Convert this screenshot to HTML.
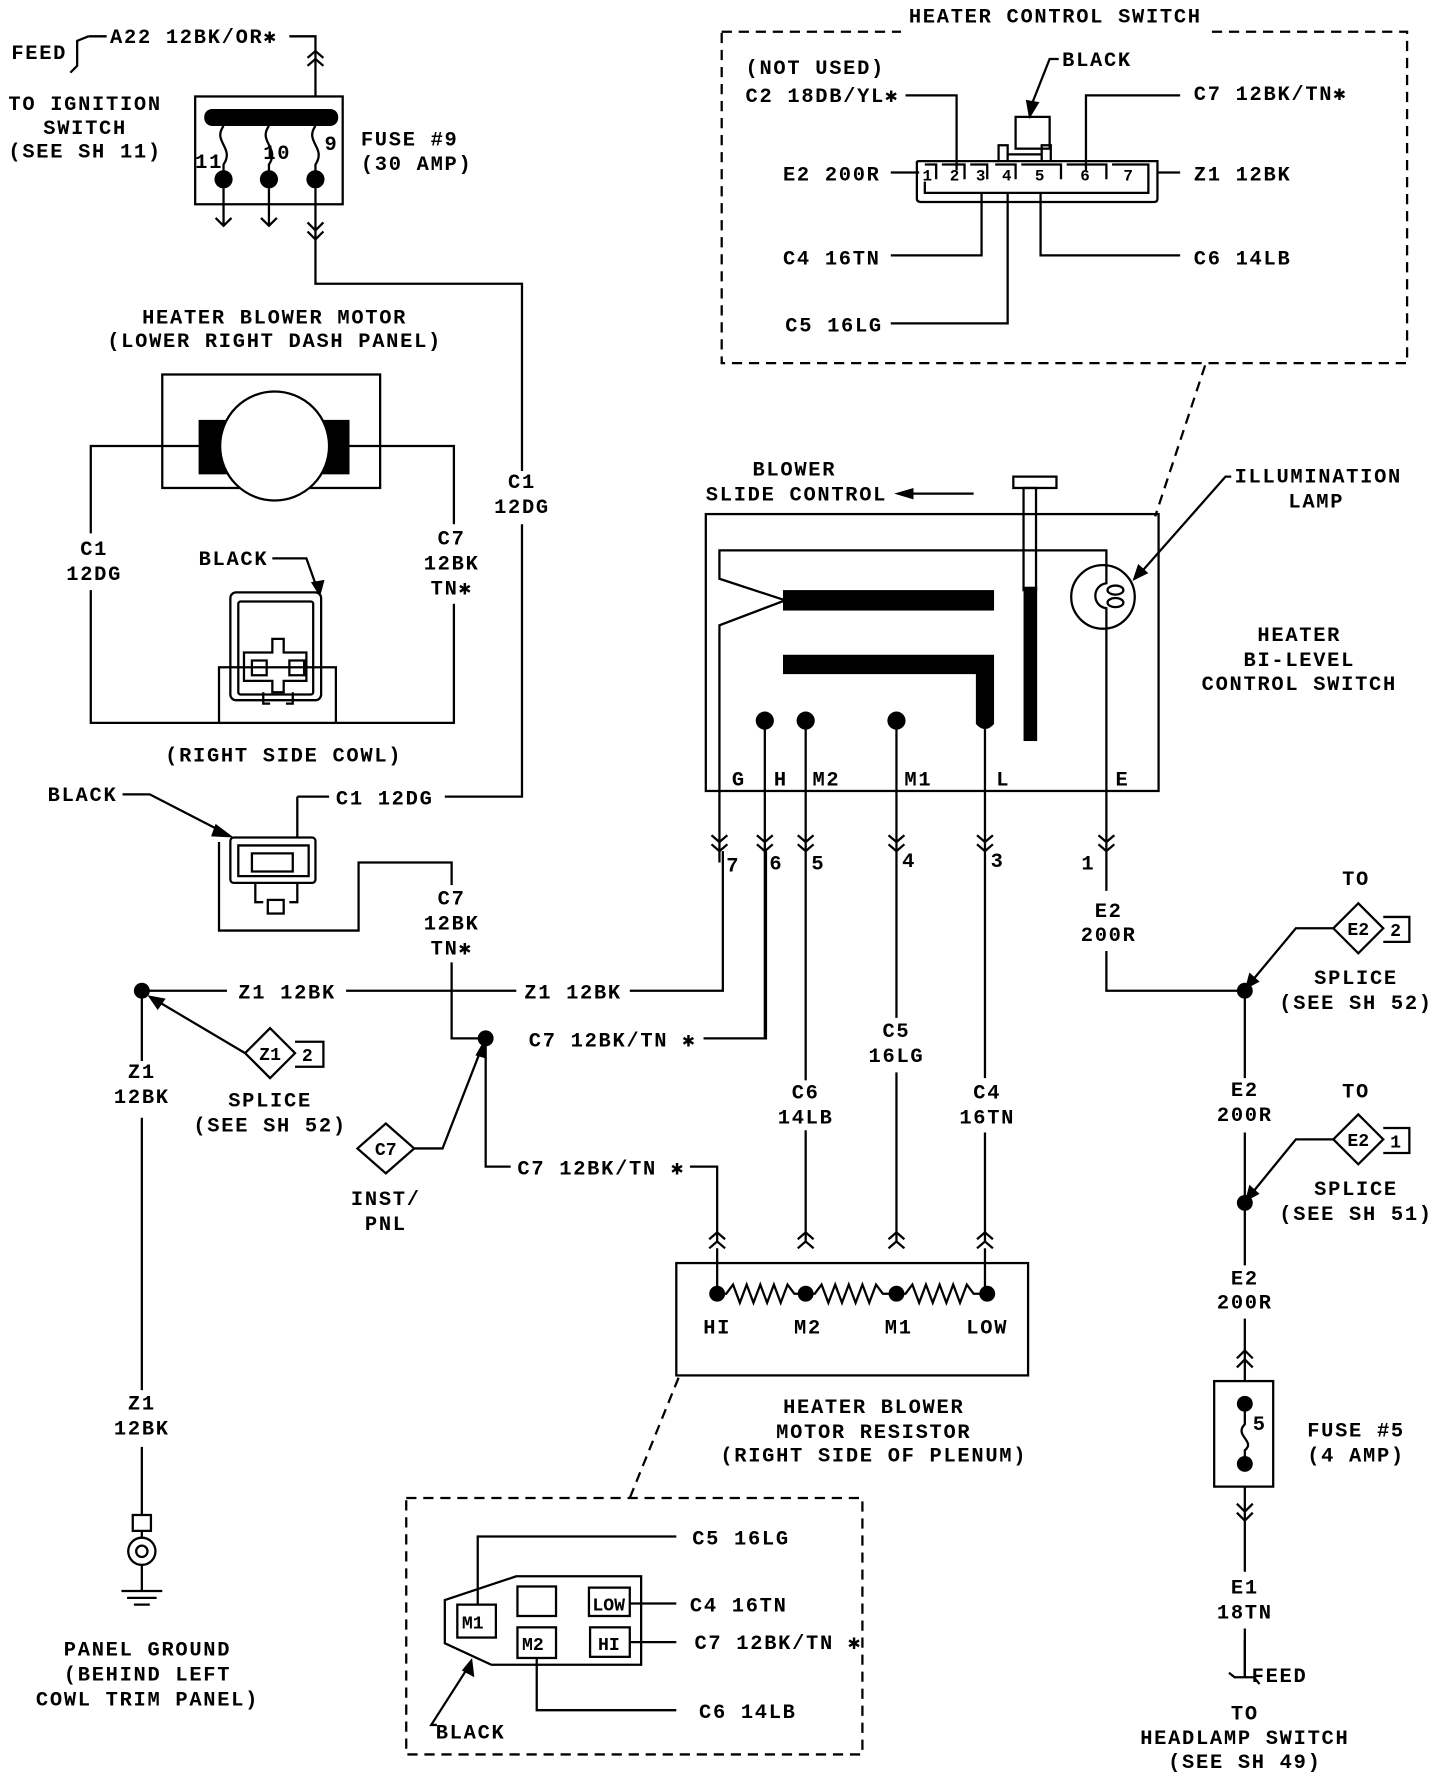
<!DOCTYPE html>
<html><head><meta charset="utf-8"><style>
html,body{margin:0;padding:0;background:#fff}
svg{display:block}
text{font-family:"Liberation Mono",monospace;font-size:18px;font-weight:bold;letter-spacing:1.5px;fill:#000}
.c{text-anchor:middle}
.l{fill:none;stroke:#000;stroke-width:2}
.d{fill:none;stroke:#000;stroke-width:2;stroke-dasharray:9 6}
.f{fill:#000}
</style></head><body>
<svg width="1440" height="1776" viewBox="0 0 1269 1565" preserveAspectRatio="none">
<rect width="1269" height="1565" fill="#fff"/>
<text x="10" y="52">FEED</text>
<path class="l" d="M78,32 L68,36 L68,58 L62,64"/>
<text x="97" y="38">A22 12BK/OR✱</text>
<path class="l" d="M78,32 L94,32 M255,32 L278,32 L278,85"/>
<path class="l" d="M271,51 L278,45 L285,51 M271,58 L278,52 L285,58"/>
<text class="c" x="75" y="97">TO IGNITION</text>
<text class="c" x="75" y="118">SWITCH</text>
<text class="c" x="75" y="139">(SEE SH 11)</text>
<rect class="l" x="172" y="85" width="130" height="95"/>
<rect class="f" x="180" y="96" width="118" height="15" rx="7"/>
<path class="l" d="M197,111 C187,125 207,130 197,145 L197,158 M237,111 C227,125 247,130 237,145 L237,158 M278,111 C268,125 288,130 278,145 L278,158"/>
<circle class="f" cx="197" cy="158" r="8"/><circle class="f" cx="237" cy="158" r="8"/><circle class="f" cx="278" cy="158" r="8"/>
<text x="172" y="148">11</text><text x="232" y="140">10</text><text x="286" y="132">9</text>
<path class="l" d="M197,166 L197,198 M190,192 L197,199 L204,192 M237,166 L237,198 M230,192 L237,199 L244,192 M278,166 L278,218 M271,196 L278,203 L285,196 M271,204 L278,211 L285,204 M278,218 L278,250 L460,250 L460,415 M460,462 L460,702 L392,702"/>
<text x="318" y="128">FUSE #9</text><text x="318" y="150">(30 AMP)</text>
<text class="c" x="460" y="430">C1</text><text class="c" x="460" y="452">12DG</text>
<text class="c" x="242" y="285">HEATER BLOWER MOTOR</text>
<text class="c" x="242" y="306">(LOWER RIGHT DASH PANEL)</text>
<rect class="l" x="143" y="330" width="192" height="100"/>
<rect class="f" x="175" y="370" width="25" height="48"/><rect class="f" x="283" y="370" width="25" height="48"/>
<circle cx="242" cy="393" r="48" fill="#fff" stroke="#000" stroke-width="2"/>
<path class="l" d="M175,393 L80,393 L80,470 M80,520 L80,637 L193,637 M308,393 L400,393 L400,462 M400,532 L400,637 L296,637"/>
<text class="c" x="83" y="489">C1</text><text class="c" x="83" y="511">12DG</text>
<text class="c" x="398" y="480">C7</text><text class="c" x="398" y="502">12BK</text><text class="c" x="398" y="524">TN✱</text>
<text x="175" y="498">BLACK</text>
<path class="l" d="M240,492 L270,492 L280,520"/><path class="f" d="M274,513 L286,511 L282,526Z"/>
<rect class="l" x="203" y="522" width="80" height="95" rx="5"/>
<rect class="l" x="210" y="530" width="66" height="82" rx="2"/>
<rect class="l" x="193" y="588" width="103" height="49"/>
<path class="l" d="M215,575 L240,575 L240,563 L250,563 L250,575 L270,575 L270,600 L250,600 L250,610 L240,610 L240,600 L215,600Z M222,582 L235,582 L235,595 L222,595Z M255,582 L268,582 L268,595 L255,595Z M232,610 L232,620 L238,620 M258,610 L258,620 L252,620"/>
<text class="c" x="250" y="671">(RIGHT SIDE COWL)</text>
<text x="42" y="706">BLACK</text>
<path class="l" d="M108,700 L132,700 L200,735"/><path class="f" d="M190,726 L206,738 L186,737Z"/>
<path class="l" d="M262,702 L290,702 M262,702 L262,738"/>
<text x="296" y="709">C1 12DG</text>
<path class="l" d="M193,742 L193,820 L316,820 L316,760 L398,760 L398,780"/>
<rect class="l" x="203" y="738" width="75" height="40" rx="3"/>
<path class="l" d="M210,745 L272,745 L272,772 L210,772Z M222,752 L258,752 L258,768 L222,768Z M225,778 L225,795 L232,795 M262,778 L262,795 L255,795"/>
<rect class="l" x="236" y="793" width="14" height="12"/>
<text class="c" x="398" y="797">C7</text><text class="c" x="398" y="819">12BK</text><text class="c" x="398" y="841">TN✱</text>
<path class="l" d="M398,848 L398,915 L428,915 M428,915 L428,1028 L450,1028"/>
<circle class="f" cx="428" cy="915" r="7"/>
<circle class="f" cx="125" cy="873" r="7"/>
<path class="l" d="M125,873 L200,873 M305,873 L455,873 M555,873 L637,873 L637,750"/>
<text x="210" y="880">Z1 12BK</text><text x="462" y="880">Z1 12BK</text>
<text x="466" y="922">C7 12BK/TN ✱</text>
<path class="l" d="M620,915 L675,915 L675,750"/>
<text x="456" y="1035">C7 12BK/TN ✱</text>
<path class="l" d="M608,1028 L632,1028 L632,1095"/>
<path class="l" d="M340,990 L365,1012 L340,1034 L315,1012Z"/>
<text class="c" x="340" y="1018" style="font-size:16px;letter-spacing:0">C7</text>
<path class="l" d="M365,1012 L390,1012 L425,922"/><path class="f" d="M419,930 L427,916 L429,933Z"/>
<text class="c" x="340" y="1062">INST/</text><text class="c" x="340" y="1084">PNL</text>
<path class="l" d="M238,906 L260,928 L238,950 L216,928Z M260,918 L285,918 L285,940 L260,940"/>
<text class="c" x="238" y="934" style="font-size:16px;letter-spacing:0">Z1</text><text x="266" y="935" style="font-size:16px">2</text>
<path class="l" d="M216,928 L135,880"/><path class="f" d="M130,877 L146,880 L139,890Z"/>
<text class="c" x="238" y="975">SPLICE</text><text class="c" x="238" y="997">(SEE SH 52)</text>
<path class="l" d="M125,873 L125,935 M125,985 L125,1225 M125,1275 L125,1335"/>
<text class="c" x="125" y="950">Z1</text><text class="c" x="125" y="972">12BK</text>
<text class="c" x="125" y="1242">Z1</text><text class="c" x="125" y="1264">12BK</text>
<rect class="l" x="117" y="1335" width="16" height="14"/>
<circle class="l" cx="125" cy="1367" r="12"/><circle class="l" cx="125" cy="1367" r="5"/>
<path class="l" d="M125,1349 L125,1355 M125,1379 L125,1402 M107,1402 L143,1402 M112,1408 L138,1408 M118,1414 L132,1414"/>
<text class="c" x="130" y="1459">PANEL GROUND</text><text class="c" x="130" y="1481">(BEHIND LEFT</text><text class="c" x="130" y="1503">COWL TRIM PANEL)</text>
<text class="c" x="930" y="20">HEATER CONTROL SWITCH</text>
<path class="d" d="M636,28 L794,28 M1068,28 L1240,28 L1240,320 L636,320 L636,28"/>
<text x="657" y="65">(NOT USED)</text>
<text x="657" y="90">C2 18DB/YL✱</text>
<path class="l" d="M798,84 L843,84 L843,150"/>
<text x="936" y="58">BLACK</text>
<path class="l" d="M933,52 L925,52 L910,90"/><path class="f" d="M904,88 L916,90 L907,105Z"/>
<text x="1052" y="88">C7 12BK/TN✱</text>
<path class="l" d="M1040,84 L957,84 L957,150"/>
<text x="690" y="159">E2 200R</text>
<path class="l" d="M785,152 L810,152 M1020,152 L1040,152"/>
<text x="1052" y="159">Z1 12BK</text>
<path class="l" d="M808,160 L808,143 Q808,142 810,142 L1020,142 L1020,175 Q1020,178 1017,178 L812,178 Q808,178 808,175Z"/>
<path class="l" d="M880,142 L880,128 L888,128 L888,142 M918,142 L918,128 L926,128 L926,142 M888,136 L918,136"/>
<rect class="l" x="895" y="103" width="30" height="28"/>
<path class="l" d="M815,145 L825,145 L825,158 M830,145 L850,145 L850,158 M855,145 L870,145 L870,158 M877,145 L895,145 L895,158 M900,145 L935,145 L935,158 M940,145 L975,145 L975,158 M980,145 L1012,145 L1012,160 L1012,170 L815,170 L815,160"/>
<text x="813" y="159" style="font-size:14px;letter-spacing:0">1</text><text x="837" y="159" style="font-size:14px;letter-spacing:0">2</text><text x="860" y="159" style="font-size:14px;letter-spacing:0">3</text><text x="883" y="159" style="font-size:14px;letter-spacing:0">4</text><text x="912" y="159" style="font-size:14px;letter-spacing:0">5</text><text x="952" y="159" style="font-size:14px;letter-spacing:0">6</text><text x="990" y="159" style="font-size:14px;letter-spacing:0">7</text>
<path class="l" d="M865,170 L865,225 L785,225 M888,170 L888,285 L785,285 M917,170 L917,225 L1040,225"/>
<text x="690" y="233">C4 16TN</text><text x="1052" y="233">C6 14LB</text>
<text x="692" y="292">C5 16LG</text>
<path class="d" d="M1062,322 L1018,455"/>
<text class="c" x="700" y="419">BLOWER</text><text x="622" y="441">SLIDE CONTROL</text>
<path class="l" d="M800,435 L858,435"/><path class="f" d="M788,435 L805,430 L805,440Z"/>
<rect class="l" x="893" y="420" width="38" height="10"/>
<rect class="l" x="902" y="430" width="11" height="90"/>
<rect class="f" x="902" y="517" width="12" height="136"/>
<rect class="l" x="622" y="453" width="399" height="244"/>
<path class="l" d="M975,508 L975,485 L634,485 L634,510 L692,529 L634,551 L634,760"/>
<rect class="f" x="690" y="520" width="186" height="18"/>
<path class="f" d="M690,577 L876,577 L876,638 Q868,647 860,638 L860,594 L690,594Z"/>
<circle class="l" cx="972" cy="526" r="28"/>
<path class="l" d="M975,508 L975,514 C962,516 962,534 975,536 L975,760"/>
<ellipse class="l" cx="983" cy="520" rx="7" ry="4"/><ellipse class="l" cx="983" cy="531" rx="7" ry="4"/>
<text x="1088" y="425">ILLUMINATION</text><text class="c" x="1160" y="447">LAMP</text>
<path class="l" d="M1085,420 L1080,420 L1005,505"/><path class="f" d="M998,512 L1003,497 L1012,505Z"/>
<text class="c" x="1145" y="565">HEATER</text><text class="c" x="1145" y="587">BI-LEVEL</text><text class="c" x="1145" y="608">CONTROL SWITCH</text>
<circle class="f" cx="674" cy="635" r="8"/><circle class="f" cx="710" cy="635" r="8"/><circle class="f" cx="790" cy="635" r="8"/>
<path class="l" d="M674,635 L674,770 M710,635 L710,1095 M790,635 L790,897 M868,630 L868,950 M790,945 L790,1095 M868,998 L868,1095 M674,760 L674,915"/>
<rect x="700" y="952" width="22" height="44" fill="#fff"/>
<text x="645" y="692">G</text><text x="682" y="692">H</text><text x="716" y="692">M2</text><text x="797" y="692">M1</text><text x="878" y="692">L</text><text x="983" y="692">E</text>
<path class="l" d="M627,736 L634,742 L641,736 M627,744 L634,750 L641,744 M667,736 L674,742 L681,736 M667,744 L674,750 L681,744 M703,736 L710,742 L717,736 M703,744 L710,750 L717,744 M783,736 L790,742 L797,736 M783,744 L790,750 L797,744 M861,736 L868,742 L875,736 M861,744 L868,750 L875,744 M968,736 L975,742 L982,736 M968,744 L975,750 L982,744"/>
<text x="640" y="768">7</text><text x="678" y="766">6</text><text x="715" y="766">5</text><text x="795" y="764">4</text><text x="873" y="764">3</text><text x="953" y="766">1</text>
<rect x="770" y="898" width="40" height="45" fill="#fff"/>
<text class="c" x="790" y="914">C5</text><text class="c" x="790" y="936">16LG</text>
<text class="c" x="710" y="968">C6</text><text class="c" x="710" y="990">14LB</text>
<rect x="848" y="952" width="40" height="44" fill="#fff"/>
<text class="c" x="870" y="968">C4</text><text class="c" x="870" y="990">16TN</text>
<path class="l" d="M625,1092 L632,1086 L639,1092 M625,1100 L632,1094 L639,1100 M703,1092 L710,1086 L717,1092 M703,1100 L710,1094 L717,1100 M783,1092 L790,1086 L797,1092 M783,1100 L790,1094 L797,1100 M861,1092 L868,1086 L875,1092 M861,1100 L868,1094 L875,1100 M632,1100 L632,1140 M868,1100 L868,1140"/>
<rect class="l" x="596" y="1113" width="310" height="99"/>
<path class="l" d="M632,1140 L640,1140 L646,1132 L652,1148 L658,1132 L664,1148 L670,1132 L676,1148 L682,1132 L688,1148 L694,1132 L700,1140 L710,1140 L718,1140 L724,1132 L730,1148 L736,1132 L742,1148 L748,1132 L754,1148 L760,1132 L766,1148 L772,1132 L778,1140 L790,1140 L798,1140 L804,1132 L810,1148 L816,1132 L822,1148 L828,1132 L834,1148 L840,1132 L846,1148 L852,1132 L858,1140 L870,1140"/>
<circle class="f" cx="632" cy="1140" r="7"/><circle class="f" cx="710" cy="1140" r="7"/><circle class="f" cx="790" cy="1140" r="7"/><circle class="f" cx="870" cy="1140" r="7"/>
<text class="c" x="632" y="1175">HI</text><text class="c" x="712" y="1175">M2</text><text class="c" x="792" y="1175">M1</text><text class="c" x="870" y="1175">LOW</text>
<text class="c" x="770" y="1245">HEATER BLOWER</text><text class="c" x="770" y="1267">MOTOR RESISTOR</text><text class="c" x="770" y="1288">(RIGHT SIDE OF PLENUM)</text>
<path class="d" d="M598,1214 L555,1320"/>
<path class="d" d="M358,1320 L760,1320 L760,1546 L358,1546 Z"/>
<path class="l" d="M421,1413 L421,1354 L596,1354"/>
<text x="610" y="1361">C5 16LG</text>
<path class="l" d="M392,1410 L392,1448 L433,1467 L565,1467 L565,1389 L455,1389 L392,1410Z"/>
<rect class="l" x="403" y="1414" width="34" height="29"/><text x="407" y="1435" style="font-size:16px;letter-spacing:0">M1</text>
<rect class="l" x="456" y="1398" width="34" height="26"/>
<rect class="l" x="519" y="1399" width="36" height="25"/><text x="522" y="1419" style="font-size:16px;letter-spacing:0">LOW</text>
<rect class="l" x="456" y="1434" width="34" height="27"/><text x="460" y="1454" style="font-size:16px;letter-spacing:0">M2</text>
<rect class="l" x="520" y="1434" width="35" height="26"/><text x="527" y="1454" style="font-size:16px;letter-spacing:0">HI</text>
<path class="l" d="M555,1413 L596,1413 M555,1447 L596,1447 M473,1461 L473,1507 L596,1507"/>
<text x="608" y="1420">C4 16TN</text><text x="612" y="1453">C7 12BK/TN ✱</text><text x="616" y="1514">C6 14LB</text>
<path class="l" d="M385,1520 L380,1520 L412,1470"/><path class="f" d="M416,1461 L418,1478 L407,1472Z"/>
<text x="384" y="1532">BLACK</text>
<path class="l" d="M975,760 L975,785 M975,838 L975,873 L1097,873 L1097,950 M1097,998 L1097,1115 M1097,1162 L1097,1217 M1097,1310 L1097,1385 M1097,1435 L1097,1478"/>
<text class="c" x="977" y="808">E2</text><text class="c" x="977" y="829">200R</text>
<circle class="f" cx="1097" cy="873" r="7"/>
<text class="c" x="1195" y="780">TO</text>
<path class="l" d="M1197,796 L1219,818 L1197,840 L1175,818Z M1219,808 L1242,808 L1242,830 L1219,830"/>
<text class="c" x="1197" y="824" style="font-size:16px;letter-spacing:0">E2</text><text x="1225" y="825" style="font-size:16px">2</text>
<path class="l" d="M1175,818 L1142,818 L1102,866"/><path class="f" d="M1097,872 L1101,857 L1110,865Z"/>
<text class="c" x="1195" y="867">SPLICE</text><text class="c" x="1195" y="889">(SEE SH 52)</text>
<text class="c" x="1097" y="966">E2</text><text class="c" x="1097" y="988">200R</text>
<circle class="f" cx="1097" cy="1060" r="7"/>
<text class="c" x="1195" y="967">TO</text>
<path class="l" d="M1197,982 L1219,1004 L1197,1026 L1175,1004Z M1219,994 L1242,994 L1242,1016 L1219,1016"/>
<text class="c" x="1197" y="1010" style="font-size:16px;letter-spacing:0">E2</text><text x="1225" y="1011" style="font-size:16px">1</text>
<path class="l" d="M1175,1004 L1142,1004 L1102,1053"/><path class="f" d="M1097,1059 L1101,1044 L1110,1052Z"/>
<text class="c" x="1195" y="1053">SPLICE</text><text class="c" x="1195" y="1075">(SEE SH 51)</text>
<text class="c" x="1097" y="1132">E2</text><text class="c" x="1097" y="1153">200R</text>
<path class="l" d="M1090,1197 L1097,1190 L1104,1197 M1090,1205 L1097,1198 L1104,1205"/>
<rect class="l" x="1070" y="1217" width="52" height="93"/>
<circle class="f" cx="1097" cy="1237" r="7"/><circle class="f" cx="1097" cy="1290" r="7"/>
<path class="l" d="M1097,1237 L1097,1255 C1087,1265 1107,1270 1097,1278 L1097,1290"/>
<text x="1104" y="1260">5</text>
<text class="c" x="1195" y="1266">FUSE #5</text><text class="c" x="1195" y="1288">(4 AMP)</text>
<path class="l" d="M1090,1325 L1097,1332 L1104,1325 M1090,1333 L1097,1340 L1104,1333"/>
<text class="c" x="1097" y="1404">E1</text><text class="c" x="1097" y="1426">18TN</text>
<path class="l" d="M1097,1445 L1097,1478 L1088,1478 L1083,1474 M1097,1478 L1105,1478 L1110,1484"/>
<text x="1103" y="1482">FEED</text>
<text class="c" x="1097" y="1515">TO</text>
<text class="c" x="1097" y="1537">HEADLAMP SWITCH</text>
<text class="c" x="1097" y="1558">(SEE SH 49)</text>
</svg>
</body></html>
